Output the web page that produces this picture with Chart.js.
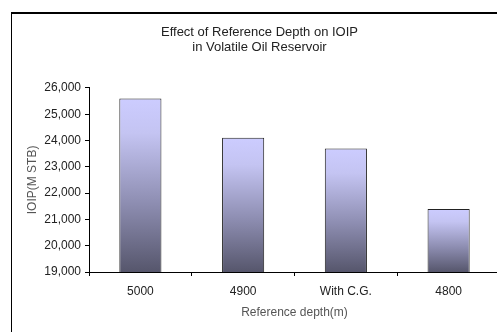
<!DOCTYPE html>
<html>
<head>
<meta charset="utf-8">
<script src="https://cdn.jsdelivr.net/npm/chart.js@4.4.0/dist/chart.umd.min.js"></script>
<style>
  html, body { margin: 0; padding: 0; background: #fff; overflow: hidden; }
  body { width: 497px; height: 332px; position: relative; }
  /* outer frame, runs off the right and bottom edges */
  #frame {
    position: absolute; left: 11px; top: 12px;
    width: 600px; height: 400px;
    border-left: 1px solid #000; border-top: 2px solid #000;
  }
  #wrap { position: absolute; left: 0; top: 0; width: 520px; height: 332px; }
</style>
</head>
<body>
<div id="frame"></div>
<div id="wrap"><canvas id="chart"></canvas></div>
<script>
/* =========================
   Data
========================= */

const depthLabels = ["5000", "4900", "With C.G.", "4800"];
const ioipValues = [25600, 24100, 23700, 21400];
const yMin = 19000;
const yMax = 26000;
const yStep = 1000;

const titleLines = ["Effect of Reference Depth on IOIP", "in Volatile Oil Reservoir"];
const yTitle = "IOIP(M STB)";
const xTitle = "Reference depth(m)";

/* =========================
   Bar gradient (light top -> dark bottom, per bar)
========================= */

function barGradient(context) {
  const chart = context.chart;
  const { ctx, chartArea, scales } = chart;
  if (!chartArea) return "#aaaadd";
  const top = scales.y.getPixelForValue(context.raw);
  const bottom = scales.y.getPixelForValue(yMin);
  const g = ctx.createLinearGradient(0, top, 0, bottom);
  g.addColorStop(0, "#ccccff");
  g.addColorStop(0.2, "#c4c4f2");
  g.addColorStop(0.6, "#8e8eb2");
  g.addColorStop(1, "#56566c");
  return g;
}

/* =========================
   Chart
========================= */

Chart.defaults.font.family = "'Liberation Sans', Arial, sans-serif";
Chart.defaults.color = "#222";

new Chart(document.getElementById("chart"), {
  type: "bar",
  data: {
    labels: depthLabels,
    datasets: [{
      data: ioipValues,
      backgroundColor: barGradient,
      borderColor: "#222",
      borderWidth: 1,
      borderSkipped: false,
      categoryPercentage: 1,
      barPercentage: 0.41
    }]
  },
  options: {
    responsive: true,
    maintainAspectRatio: false,
    animation: false,
    // left/right padding keeps the title centred on the outer frame
    layout: { padding: { left: 19, right: 20, top: 0, bottom: 0 } },
    plugins: {
      legend: { display: false },
      tooltip: { enabled: false },
      title: {
        display: true,
        text: titleLines,
        color: "#222",
        font: { size: 13, weight: "normal", lineHeight: 1.15 },
        padding: { top: 25, bottom: 33 }
      }
    },
    scales: {
      x: {
        grid: {
          offset: true,
          drawOnChartArea: false,
          drawTicks: true,
          tickLength: 4,
          color: "#000"
        },
        border: { color: "#000", width: 1 },
        ticks: { font: { size: 12 }, color: "#222", padding: 8 },
        title: {
          display: true,
          text: xTitle,
          color: "#555",
          font: { size: 12 },
          padding: { top: 6, bottom: 12 }
        },
        afterFit: scale => { scale.height = 60; }
      },
      y: {
        min: yMin,
        max: yMax,
        grid: {
          drawOnChartArea: false,
          drawTicks: true,
          tickLength: 4,
          color: "#000"
        },
        border: { color: "#000", width: 1 },
        ticks: {
          stepSize: yStep,
          font: { size: 12 },
          color: "#222",
          padding: 4,
          callback: v => v.toLocaleString("en-US")
        },
        title: {
          display: true,
          text: yTitle,
          color: "#555",
          font: { size: 12 },
          padding: { top: 6, bottom: 0 }
        },
        afterFit: scale => { scale.width = 70; }
      }
    }
  }
});
</script>
</body>
</html>
